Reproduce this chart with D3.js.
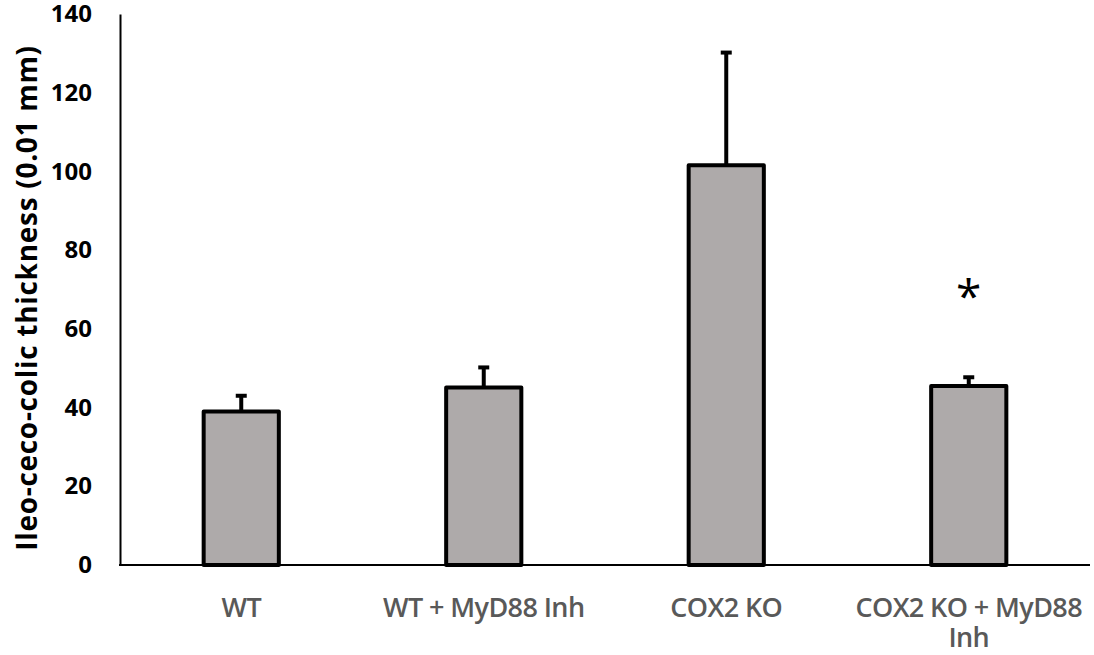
<!DOCTYPE html>
<html>
<head>
<meta charset="utf-8">
<script src="https://cdn.jsdelivr.net/npm/d3@7"></script>
<style>
  html, body { margin: 0; padding: 0; background: #fff; }
  svg { display: block; }
</style>
</head>
<body>
<svg id="chart"></svg>
<script>
// data
const categories = ["WT", "WT + MyD88 Inh", "COX2 KO", "COX2 KO + MyD88 Inh"];
const means = [39, 45.1, 101.6, 45.5];
const errors = [4.0, 5.1, 28.6, 2.2];
const significant = [false, false, false, true];
const yTicks = [0, 20, 40, 60, 80, 100, 120, 140];
const yLabel = "Ileo-ceco-colic thickness (0.01 mm)";

const width = 1094, height = 655;
const margin = { top: 14, right: 4, bottom: 90, left: 120 };

const svg = d3.select("#chart").attr("width", width).attr("height", height);

const x = d3.scaleBand()
  .domain(categories)
  .range([margin.left, width - margin.right])
  .paddingInner(0.69)
  .paddingOuter(0.345);

const y = d3.scaleLinear()
  .domain([0, 140])
  .range([height - margin.bottom, margin.top]);

// bars
svg.append("g")
  .selectAll("rect")
  .data(categories)
  .join("rect")
  .attr("x", d => x(d))
  .attr("y", (d, i) => y(means[i]))
  .attr("width", x.bandwidth())
  .attr("height", (d, i) => y(0) - y(means[i]))
  .attr("fill", "#aeaaaa")
  .attr("stroke", "#000")
  .attr("stroke-width", 4)
  .attr("stroke-linejoin", "round");

// error bars (upper only)
const err = svg.append("g").attr("stroke", "#000").attr("stroke-width", 4);
categories.forEach((c, i) => {
  const cx = x(c) + x.bandwidth() / 2;
  err.append("line")
    .attr("x1", cx).attr("x2", cx)
    .attr("y1", y(means[i])).attr("y2", y(means[i] + errors[i]));
  err.append("line")
    .attr("x1", cx - 5.5).attr("x2", cx + 5.5)
    .attr("y1", y(means[i] + errors[i])).attr("y2", y(means[i] + errors[i]));
});

// significance marks
svg.append("g")
  .selectAll("text")
  .data(categories.filter((c, i) => significant[i]))
  .join("text")
  .attr("x", d => x(d) + x.bandwidth() / 2)
  .attr("y", 313)
  .attr("text-anchor", "middle")
  .attr("font-family", "Open Sans, sans-serif")
  .attr("font-size", 46)
  .attr("fill", "#000")
  .text("*");

// y axis
const yAxis = svg.append("g")
  .attr("transform", `translate(${margin.left},0)`)
  .call(d3.axisLeft(y).tickValues(yTicks).tickSize(0).tickPadding(28));
yAxis.select(".domain").attr("stroke", "#000").attr("stroke-width", 2);
yAxis.selectAll("text")
  .attr("font-family", "Open Sans, sans-serif")
  .attr("font-weight", 700)
  .attr("font-size", 24)
  .attr("fill", "#000");

// x axis
const xAxis = svg.append("g")
  .attr("transform", `translate(0,${y(0)})`)
  .call(d3.axisBottom(x).tickSize(0).tickPadding(0));
xAxis.select(".domain")
  .attr("d", `M${margin.left - 1},0H${width - 4}`)
  .attr("stroke", "#000").attr("stroke-width", 2);
xAxis.selectAll(".tick text")
  .attr("dy", null)
  .attr("y", null)
  .attr("font-family", "Open Sans, sans-serif")
  .attr("font-weight", 600)
  .attr("font-size", 27)
  .attr("letter-spacing", -0.6)
  .attr("fill", "#595959")
  .call(wrap, x.step());

function wrap(texts, w) {
  texts.each(function () {
    const text = d3.select(this);
    const words = text.text().split(/\s+/);
    text.text(null);
    let line = [];
    let lineNo = 0;
    let tspan = text.append("tspan").attr("x", 0).attr("y", 52);
    words.forEach(word => {
      line.push(word);
      tspan.text(line.join(" "));
      if (tspan.node().getComputedTextLength() > w && line.length > 1) {
        line.pop();
        tspan.text(line.join(" "));
        line = [word];
        lineNo += 1;
        tspan = text.append("tspan").attr("x", 0).attr("y", 52 + lineNo * 30).text(word);
      }
    });
  });
}

// y title
svg.append("text")
  .attr("transform", `translate(37,298) rotate(-90)`)
  .attr("text-anchor", "middle")
  .attr("font-family", "Open Sans, sans-serif")
  .attr("font-weight", 700)
  .attr("font-size", 28)
  .attr("letter-spacing", 0.7)
  .attr("fill", "#000")
  .text(yLabel);
</script>
</body>
</html>
